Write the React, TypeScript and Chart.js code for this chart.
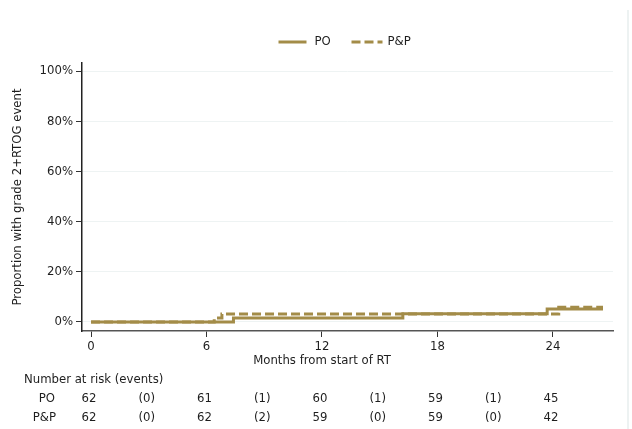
import React, { useEffect, useRef } from 'react';
import { Chart, registerables } from 'chart.js';

Chart.register(...registerables);

// ---- data ----
const seriesLabels = ['PO', 'P&P'];
const poMonths = [0, 7.4, 16.2, 23.7, 26.6];
const poProportion = [0, 1.6, 3.3, 5.2, 5.2];
const ppMonths = [0, 6.4, 6.8, 24.3, 26.6];
const ppProportion = [0, 1.6, 3.2, 5.9, 5.9];
const xTicks = [0, 6, 12, 18, 24];
const yTicks = [0, 20, 40, 60, 80, 100];
const riskMonths = [0, 3, 6, 9, 12, 15, 18, 21, 24];
const poRisk = ['62', '(0)', '61', '(1)', '60', '(1)', '59', '(1)', '45'];
const ppRisk = ['62', '(0)', '62', '(2)', '59', '(0)', '59', '(0)', '42'];
const xTitle = 'Months from start of RT';
const yTitle = 'Proportion with grade 2+RTOG event';
const riskHeader = 'Number at risk (events)';

const FAMILY = '"DejaVu Sans Condensed", "DejaVu Sans", sans-serif';
const FS = 13;
const LINE_COLOR = '#a38c48';
const TEXT_COLOR = '#1e1e1e';
const DASH = [9, 4];

const toPoints = (xs: number[], ys: number[]) => xs.map((x, i) => ({ x, y: ys[i] }));

const extrasPlugin = {
  id: 'extras',
  afterDraw(chart: any) {
    const { ctx, chartArea } = chart;
    const xs = chart.scales.x;
    ctx.save();
    // faint frame edge on the right
    ctx.strokeStyle = '#edf2f2';
    ctx.lineWidth = 2;
    ctx.beginPath();
    ctx.moveTo(628, 10);
    ctx.lineTo(628, 429);
    ctx.stroke();

    // legend
    const cx = (chartArea.left + chartArea.right) / 2;
    const start = cx - 69;
    const ly = 42;
    const ds = chart.data.datasets;
    ctx.lineWidth = 3;
    ctx.strokeStyle = ds[0].borderColor;
    ctx.setLineDash([]);
    ctx.beginPath();
    ctx.moveTo(start, ly);
    ctx.lineTo(start + 28, ly);
    ctx.stroke();
    ctx.strokeStyle = ds[1].borderColor;
    ctx.setLineDash(ds[1].borderDash);
    ctx.beginPath();
    ctx.moveTo(start + 73, ly);
    ctx.lineTo(start + 104, ly);
    ctx.stroke();
    ctx.setLineDash([]);
    ctx.font = `${FS}px ${FAMILY}`;
    ctx.fillStyle = TEXT_COLOR;
    ctx.textBaseline = 'middle';
    ctx.textAlign = 'left';
    ctx.fillText(ds[0].label, start + 36, ly);
    ctx.fillText(ds[1].label, start + 109, ly);

    // x title centred on data range
    ctx.textAlign = 'center';
    ctx.fillText(xTitle, xs.getPixelForValue(12), chartArea.bottom + 30);

    // number at risk table
    const b = chartArea.bottom;
    ctx.textAlign = 'left';
    ctx.fillText(riskHeader, 24, b + 49);
    ctx.textAlign = 'right';
    ctx.fillText(seriesLabels[0], 55, b + 68);
    ctx.fillText(seriesLabels[1], 56, b + 87);
    ctx.textAlign = 'center';
    riskMonths.forEach((m, i) => {
      const x = xs.getPixelForValue(m) - 2;
      ctx.fillText(poRisk[i], x, b + 68);
      ctx.fillText(ppRisk[i], x, b + 87);
    });
    ctx.restore();
  },
};

export default function App() {
  const ref = useRef<HTMLCanvasElement | null>(null);
  useEffect(() => {
    if (!ref.current) return;
    const chart = new Chart(ref.current, {
      type: 'line',
      data: {
        datasets: [
          {
            label: seriesLabels[0],
            data: toPoints(poMonths, poProportion),
            borderColor: LINE_COLOR,
            backgroundColor: LINE_COLOR,
            borderWidth: 3,
            pointRadius: 0,
            stepped: 'before',
            fill: false,
          },
          {
            label: seriesLabels[1],
            data: toPoints(ppMonths, ppProportion),
            borderColor: LINE_COLOR,
            backgroundColor: LINE_COLOR,
            borderWidth: 3,
            borderDash: DASH,
            pointRadius: 0,
            stepped: 'before',
            fill: false,
          },
        ],
      },
      options: {
        animation: false,
        responsive: false,
        devicePixelRatio: 1,
        layout: { padding: { left: 0, right: 19, top: 63, bottom: 58 } },
        plugins: {
          legend: { display: false },
          tooltip: { enabled: false },
        },
        scales: {
          x: {
            type: 'linear',
            min: -0.47,
            max: 27.12,
            afterBuildTicks: (s: any) => {
              s.ticks = xTicks.map((v) => ({ value: v }));
            },
            afterFit: (s: any) => {
              s.height = 40;
            },
            grid: {
              drawOnChartArea: false,
              drawTicks: true,
              tickLength: 6,
              tickColor: '#333',
              tickWidth: 1,
            },
            border: { display: true, color: '#555', width: 1.5 },
            ticks: {
              padding: 2,
              color: TEXT_COLOR,
              font: { family: FAMILY, size: FS },
              maxRotation: 0,
              autoSkip: false,
            },
          },
          y: {
            type: 'linear',
            min: -3.59,
            max: 103.2,
            afterBuildTicks: (s: any) => {
              s.ticks = yTicks.map((v) => ({ value: v }));
            },
            afterFit: (s: any) => {
              s.width = 82;
            },
            grid: {
              drawOnChartArea: true,
              color: '#eef3f3',
              lineWidth: 1,
              drawTicks: true,
              tickLength: 6,
              tickColor: '#333',
            },
            border: { display: true, color: '#222', width: 1.5 },
            ticks: {
              padding: 3,
              color: TEXT_COLOR,
              font: { family: FAMILY, size: FS },
              callback: (v: any) => `${v}%`,
            },
            title: {
              display: true,
              text: yTitle,
              color: TEXT_COLOR,
              font: { family: FAMILY, size: FS },
              padding: { top: 10, bottom: 0 },
            },
          },
        },
      },
      plugins: [extrasPlugin],
    });
    return () => chart.destroy();
  }, []);
  return (
    <div style={{ position: 'absolute', left: 0, top: 0, width: 632, height: 429, background: '#fff' }}>
      <canvas ref={ref} width={632} height={429} style={{ display: 'block' }} />
    </div>
  );
}
